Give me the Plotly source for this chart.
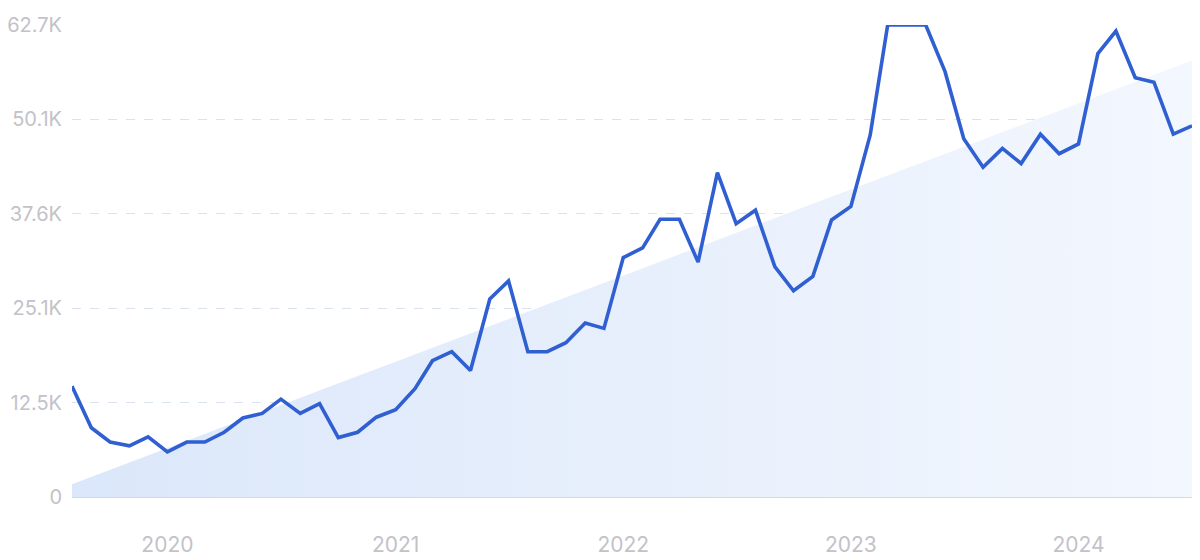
import plotly.graph_objects as go
import pandas as pd

# Monthly values, Aug 2019 .. Jul 2024
start_month = "2019-08-01"
values = [14.7, 9.2, 7.3, 6.8, 8.0, 6.0, 7.3, 7.3, 8.6, 10.5,
          11.1, 13.0, 11.1, 12.4, 7.9, 8.6, 10.6, 11.6, 14.4, 18.1,
          19.3, 16.8, 26.3, 28.7, 19.3, 19.3, 20.5, 23.1, 22.4, 31.8,
          33.1, 36.9, 36.9, 31.2, 43.1, 36.3, 38.1, 30.6, 27.4, 29.3,
          36.8, 38.6, 48.1, 62.7, 62.7, 62.7, 56.5, 47.6, 43.8, 46.3,
          44.3, 48.2, 45.6, 46.9, 58.9, 61.9, 55.7, 55.1, 48.2, 49.3]
values = [v * 1000 for v in values]
dates = pd.date_range(start_month, periods=len(values), freq="MS")

# linear trend (start / end)
trend_values = [1700, 58000]
trend_dates = [dates[0], dates[-1]]

y_ticks = [0, 12540, 25080, 37620, 50160, 62700]
y_labels = ["0", "12.5K", "25.1K", "37.6K", "50.1K", "62.7K"]
x_ticks = ["2020-01-01", "2021-01-01", "2022-01-01", "2023-01-01", "2024-01-01"]
x_labels = ["2020", "2021", "2022", "2023", "2024"]

fig = go.Figure()
fig.add_trace(go.Scatter(
    x=trend_dates, y=trend_values, mode="lines",
    line=dict(width=0, color="rgba(0,0,0,0)"),
    fill="tozeroy",
    fillgradient=dict(type="horizontal",
                      colorscale=[[0, "#dbe7fa"], [1, "#f3f7fe"]]),
    hoverinfo="skip", showlegend=False,
))
fig.add_trace(go.Scatter(
    x=dates, y=values, mode="lines",
    line=dict(color="#2f5fd1", width=3.6),
    cliponaxis=False, showlegend=False,
))

# the page body adds an 8px offset; the figure is sized to fit the window
fig.update_layout(
    width=1192, height=552,
    margin=dict(l=64, r=8, t=17, b=63, autoexpand=False),
    paper_bgcolor="white", plot_bgcolor="white",
    font=dict(family="Inter", color="#c2c2c8", size=20),
)
fig.update_xaxes(
    range=[dates[0], dates[-1]],
    tickvals=x_ticks, ticktext=x_labels,
    showgrid=False, zeroline=False,
    showline=False, ticks="",
    tickfont=dict(size=21, color="#c2c2c8"),
    ticklabelstandoff=33,
    automargin=False,
)
fig.update_yaxes(
    range=[0, 62700],
    tickvals=y_ticks, ticktext=y_labels,
    showgrid=True, gridcolor="#dae2ef", griddash="dash", gridwidth=1,
    zeroline=True, zerolinecolor="#cbdaf1", zerolinewidth=1.5,
    showline=False, ticks="",
    tickfont=dict(size=20, color="#c2c2c8"),
    ticklabelstandoff=9,
    automargin=False,
)

fig.write_html("out.html")
